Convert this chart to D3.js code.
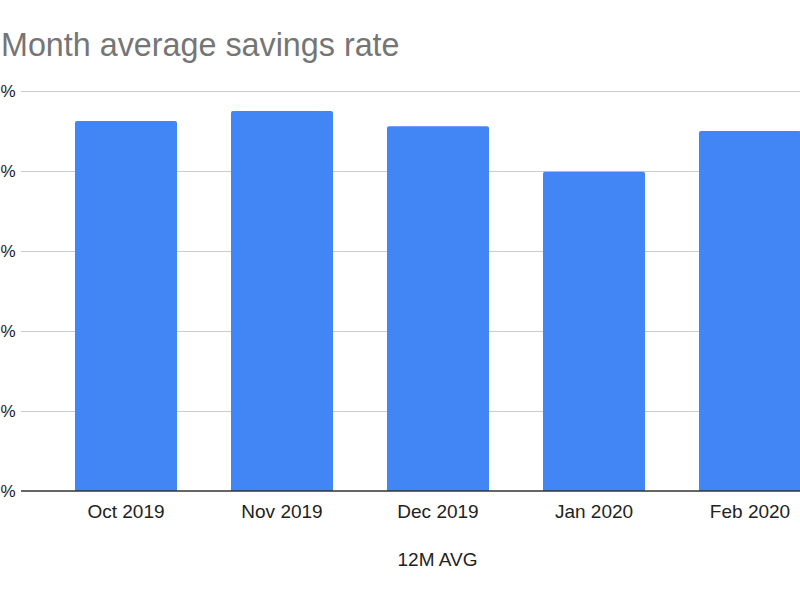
<!DOCTYPE html>
<html>
<head>
<meta charset="utf-8">
<script src="https://cdn.jsdelivr.net/npm/d3@7"></script>
<style>
html,body{margin:0;padding:0;background:#fff;overflow:hidden;}
svg{display:block;font-family:"Liberation Sans",Arial,sans-serif;}
</style>
</head>
<body>
<svg id="chart" width="800" height="600"></svg>
<script>
const categories = ["Oct 2019", "Nov 2019", "Dec 2019", "Jan 2020", "Feb 2020"];
const values = [0.4625, 0.475, 0.456, 0.399, 0.45];
const yTicks = [0, 0.1, 0.2, 0.3, 0.4, 0.5];
const yTickLabels = ["%", "%", "%", "%", "%", "%"];
const titleText = "Month average savings rate";
const xAxisTitle = "12M AVG";

(function () {
const svg = d3.select("#chart");
const W = 800, H = 600;
const mLeft = 21, mRight = 855, mTop = 91, mBottom = 491;

const x = d3.scaleBand().domain(categories).range([mLeft, mRight]).paddingInner(0.346).paddingOuter(0.346);
const y = d3.scaleLinear().domain([0, 0.5]).range([mBottom, mTop]);

// title
svg.append("text").attr("x", 1).attr("y", 56)
  .attr("font-size", 32.3).attr("fill", "#757575").text(titleText);

// gridlines
const yAxis = d3.axisLeft(y).tickValues(yTicks)
  .tickFormat((d, i) => yTickLabels[i]).tickSize(-(W - mLeft)).tickPadding(9);
const gy = svg.append("g").attr("transform", `translate(${mLeft},0)`).call(yAxis);
gy.select(".domain").remove();
gy.selectAll(".tick line").attr("stroke", "#cccccc").attr("stroke-width", 1);
gy.selectAll(".tick text").attr("text-anchor", "start").attr("x", -mLeft + 0.5)
  .attr("font-size", 17).attr("fill", "#222")
  .attr("font-family", "Liberation Sans, Arial, sans-serif");
gy.selectAll(".tick").filter(d => d === 0).select("line").remove();

// bars
svg.append("g").selectAll("path").data(categories).join("path")
  .attr("fill", "#4285f4")
  .attr("d", (c, i) => {
    const x0 = x(c), w = x.bandwidth(), y0 = y(values[i]), yb = y(0), r = 2;
    return `M${x0},${yb}V${y0 + r}Q${x0},${y0} ${x0 + r},${y0}H${x0 + w - r}Q${x0 + w},${y0} ${x0 + w},${y0 + r}V${yb}Z`;
  });

// baseline
svg.append("line").attr("x1", mLeft).attr("x2", W).attr("y1", y(0)).attr("y2", y(0))
  .attr("stroke", "#333").attr("stroke-width", 1.6);

// x axis
const xAxis = d3.axisBottom(x).tickSize(0).tickPadding(0);
const gx = svg.append("g").attr("transform", `translate(0,${mBottom})`).call(xAxis);
gx.select(".domain").remove();
gx.selectAll(".tick text").attr("dy", null).attr("y", 27).attr("font-size", 19).attr("fill", "#222")
  .attr("font-family", "Liberation Sans, Arial, sans-serif");

// axis title
svg.append("text").attr("x", 437.5).attr("y", 566).attr("text-anchor", "middle")
  .attr("font-size", 19).attr("fill", "#222").text(xAxisTitle);
})();
</script>
</body>
</html>
